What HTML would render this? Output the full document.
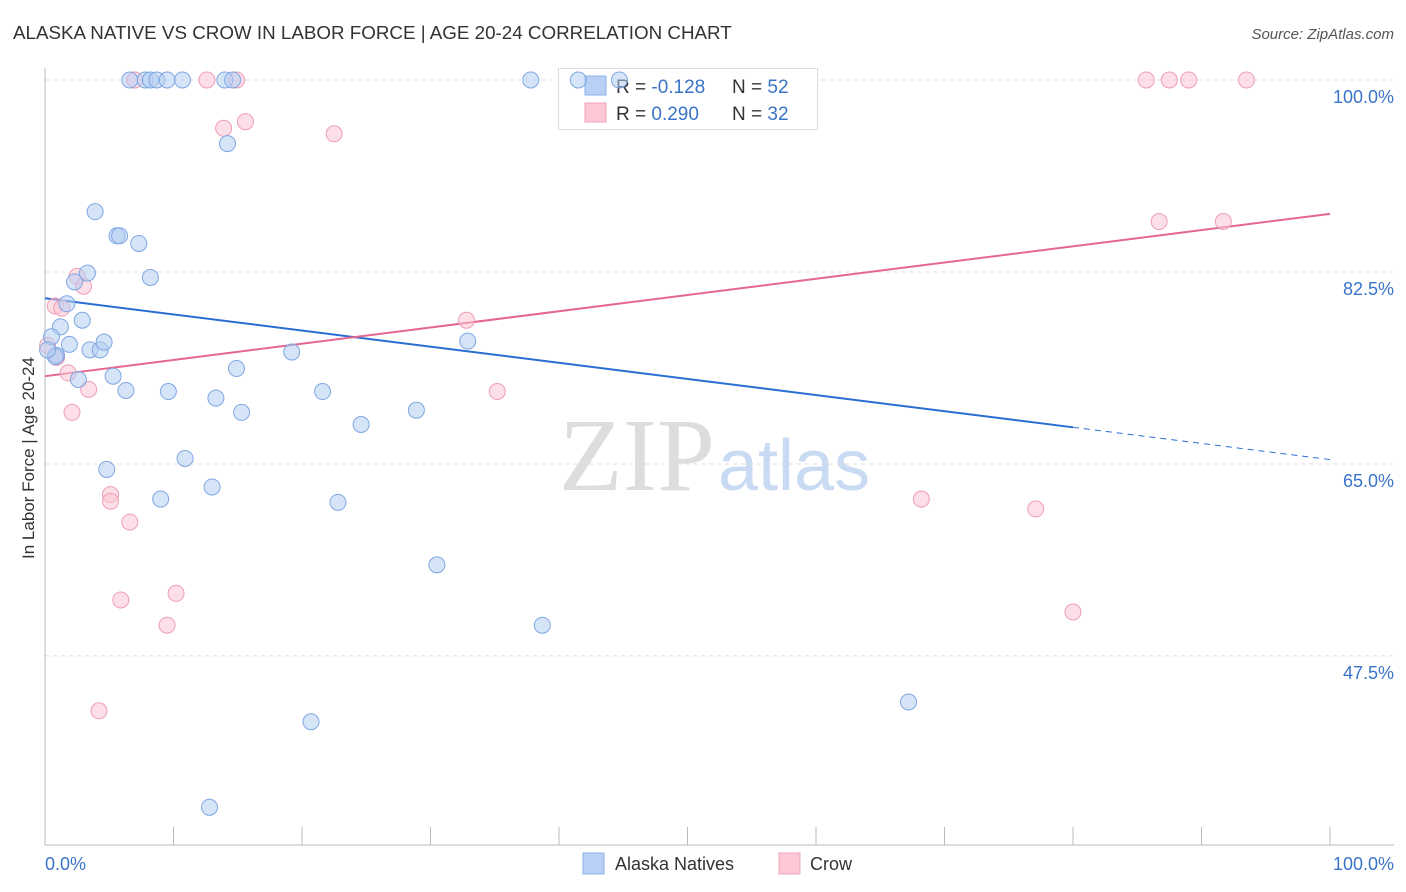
<!DOCTYPE html>
<html><head><meta charset="utf-8"><style>
body{margin:0;background:#fff;font-family:"Liberation Sans",sans-serif;}
svg{display:block}
</style></head><body>
<svg id="chart" width="1406" height="892">
<text x="13" y="39" font-size="18.8" fill="#333">ALASKA NATIVE VS CROW IN LABOR FORCE | AGE 20-24 CORRELATION CHART</text>
<text x="1394" y="39" font-size="15" fill="#555" font-style="italic" text-anchor="end">Source: ZipAtlas.com</text>
<text x="715" y="490" font-size="104" font-family="Liberation Serif,serif" fill="#ddd" text-anchor="end">ZIP</text>
<text x="718" y="490" font-size="72" fill="#c9daf3">atlas</text>
<g id="grid"></g><g id="axes"></g>
<g>
<rect x="558.5" y="68.5" width="259" height="61" fill="#fff" stroke="#ddd"/>
<rect x="585" y="76" width="21" height="19" fill="#b8d0f5" stroke="#8db1e8"/>
<rect x="585" y="103" width="21" height="19" fill="#fcc8d6" stroke="#f0a4b9"/>
<text x="616" y="93" font-size="19" fill="#333">R = <tspan fill="#3a74c9">-0.128</tspan><tspan x="732">N = </tspan><tspan fill="#3a74c9">52</tspan></text>
<text x="616" y="120" font-size="19" fill="#333">R = <tspan fill="#3a74c9"> 0.290</tspan><tspan x="732">N = </tspan><tspan fill="#3a74c9">32</tspan></text>
</g>
<g id="trends"></g><g id="points"></g>
<text x="34" y="458" font-size="17" fill="#333" text-anchor="middle" transform="rotate(-90 34 458)">In Labor Force | Age 20-24</text>
<text x="45" y="870" font-size="18" fill="#3a74c9">0.0%</text>
<text x="1394" y="870" font-size="18" fill="#3a74c9" text-anchor="end">100.0%</text>
<g>
<rect x="583" y="853" width="21" height="21" fill="#b8d0f5" stroke="#8db1e8"/>
<text x="615" y="870" font-size="18" fill="#333">Alaska Natives</text>
<rect x="779" y="853" width="21" height="21" fill="#fcc8d6" stroke="#f0a4b9"/>
<text x="810" y="870" font-size="18" fill="#333">Crow</text>
</g>
</svg>
<script>
const yTicks=[100,82.5,65,47.5];
const yTickLabels=["100.0%","82.5%","65.0%","47.5%"];
const blueX=[6.6,7.8,8.2,8.7,9.5,10.7,14.0,14.6,37.8,41.5,44.7,14.2,3.9,5.6,5.8,7.3,3.3,8.2,2.3,1.7,2.9,1.2,0.5,1.9,0.9,0.8,3.5,4.3,4.6,19.2,32.9,2.6,5.3,6.3,9.6,14.9,13.3,15.3,21.6,24.6,28.9,4.8,10.9,13.0,9.0,22.8,30.5,38.7,20.7,67.2,12.8,0.2];
const blueY=[100,100,100,100,100,100,100,100,100,100,100,94.2,88.0,85.8,85.8,85.1,82.4,82.0,81.6,79.6,78.1,77.5,76.6,75.9,74.9,74.8,75.4,75.4,76.1,75.2,76.2,72.7,73.0,71.7,71.6,73.7,71.0,69.7,71.6,68.6,69.9,64.5,65.5,62.9,61.8,61.5,55.8,50.3,41.5,43.3,33.7,75.4];
const pinkX=[7.0,12.6,14.9,85.7,87.5,89.0,93.5,13.9,15.6,22.5,86.7,91.7,2.5,3.0,0.8,1.3,0.2,0.9,1.8,3.4,2.1,32.8,35.2,5.1,5.1,6.6,5.9,10.2,9.5,4.2,68.2,77.1,80.0];
const pinkY=[100,100,100,100,100,100,100,95.6,96.2,95.1,87.1,87.1,82.1,81.2,79.4,79.2,75.8,74.7,73.3,71.8,69.7,78.1,71.6,62.2,61.6,59.7,52.6,53.2,50.3,42.5,61.8,60.9,51.5];
const blueTrend=[80.1,65.4];
const pinkTrend=[73.0,87.8];
const NS="http://www.w3.org/2000/svg";
const xs=v=>45+v*12.85;
const ys=v=>80+(100-v)*10.97;
function mk(tag,attrs,parent){const e=document.createElementNS(NS,tag);for(const k in attrs)e.setAttribute(k,attrs[k]);document.getElementById(parent).appendChild(e);return e;}
yTicks.forEach((t,i)=>{
 const g=mk('line',{x1:45,x2:1394,y1:ys(t),y2:ys(t),stroke:'#ddd','stroke-dasharray':'4 4'},'grid');
 
 
 const tx=mk('text',{x:1394,y:ys(t)+23,'font-size':18,fill:'#3a74c9','text-anchor':'end'},'grid');
 tx.textContent=yTickLabels[i];
 
 
});
let a=mk('line',{x1:45,x2:45,y1:68,y2:845,stroke:'#bbb'},'axes');


a=mk('line',{x1:45,x2:1394,y1:845,y2:845,stroke:'#bbb'},'axes');


for(let i=0;i<=10;i++){const t=mk('line',{x1:xs(i*10),x2:xs(i*10),y1:827,y2:845,stroke:'#bbb'},'axes');
 
 }
function pts(X,Y,fill,stroke,name){X.forEach((x,i)=>{const c=mk('circle',{cx:xs(x),cy:ys(Y[i]),r:8,fill:fill,'fill-opacity':0.55,stroke:stroke,'stroke-width':1},'points');
 
 });}
pts(pinkX,pinkY,'#fbc5d3','#ee9db5','crow-point');
pts(blueX,blueY,'#b5cdf3','#7fa7e3','alaska-point');
const bx=80;
const byAt=x=>blueTrend[0]+(blueTrend[1]-blueTrend[0])*x/100;
let l=mk('line',{x1:xs(0),y1:ys(blueTrend[0]),x2:xs(bx),y2:ys(byAt(bx)),stroke:'#2a6dd4','stroke-width':2},'trends');


l=mk('line',{x1:xs(bx),y1:ys(byAt(bx)),x2:xs(100),y2:ys(blueTrend[1]),stroke:'#2a6dd4','stroke-width':1,'stroke-dasharray':'6 5'},'trends');


l=mk('line',{x1:xs(0),y1:ys(pinkTrend[0]),x2:xs(100),y2:ys(pinkTrend[1]),stroke:'#e5678f','stroke-width':2},'trends');


</script>
</body></html>
